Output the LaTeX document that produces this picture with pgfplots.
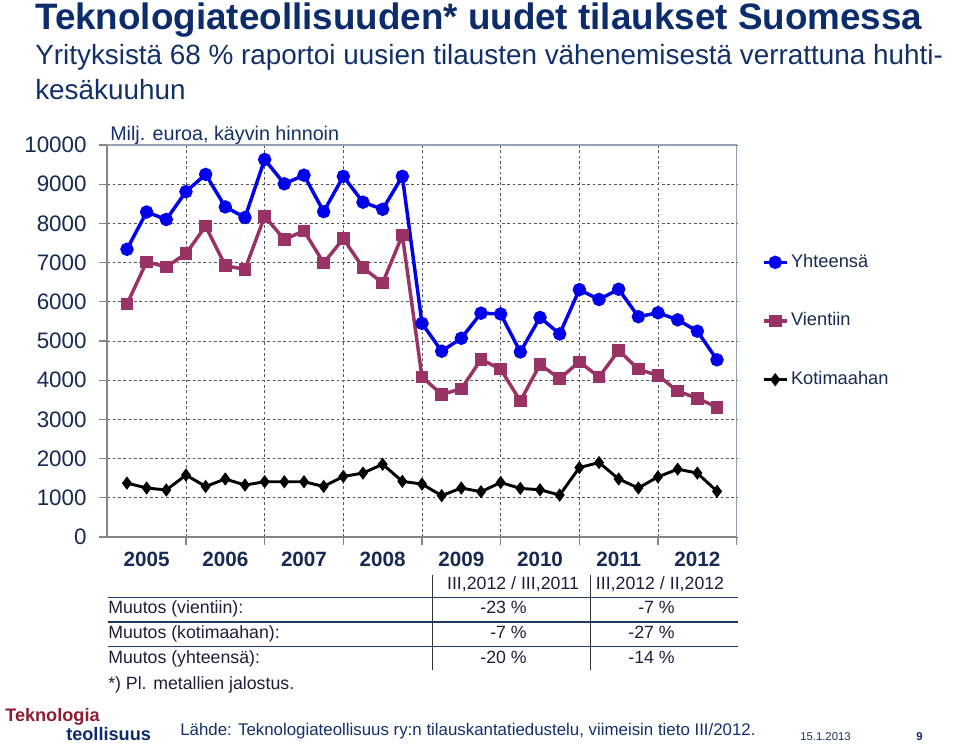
\documentclass[border=0pt]{standalone}
\usepackage{fontspec}
\setmainfont{Liberation Sans}
\usepackage{pgfplots}
\pgfplotsset{compat=1.18}
\usepackage{pgfplotstable}

\definecolor{titleblue}{RGB}{13,44,108}
\definecolor{subblue}{RGB}{18,48,106}
\definecolor{ticknavy}{RGB}{22,42,82}
\definecolor{lineblue}{RGB}{0,0,235}
\definecolor{vientiin}{RGB}{153,51,102}
\definecolor{logored}{RGB}{140,30,50}
\definecolor{gridgray}{RGB}{85,85,85}
\definecolor{axisgray}{RGB}{134,134,134}
\definecolor{framegray}{RGB}{150,160,180}
\definecolor{ruleblue}{RGB}{31,56,100}
\definecolor{tabtext}{RGB}{30,30,60}

% quarterly orders, MEUR, 2005 Q1 ... 2012 Q3 (x = 1..31)
\pgfplotstableread{
x yht vie kot
1  7340 5940 1375
2  8290 7020 1250
3  8100 6890 1200
4  8810 7230 1580
5  9250 7930 1290
6  8420 6920 1480
7  8150 6830 1325
8  9630 8180 1410
9  9010 7590 1410
10 9230 7810 1410
11 8300 6990 1290
12 9200 7610 1545
13 8540 6870 1630
14 8360 6480 1855
15 9200 7700 1420
16 5450 4080 1350
17 4740 3640 1055
18 5070 3780 1250
19 5710 4530 1155
20 5690 4280 1390
21 4720 3470 1240
22 5600 4400 1205
23 5180 4040 1070
24 6310 4470 1770
25 6060 4080 1900
26 6320 4760 1480
27 5620 4280 1250
28 5720 4120 1535
29 5540 3720 1730
30 5250 3540 1630
31 4520 3310 1165
}\orders

\begin{document}
\begin{tikzpicture}
\useasboundingbox (0pt,0pt) rectangle (720pt,558pt);

\begin{axis}[
    at={(80.475pt,155.25pt)}, anchor=south west,
    scale only axis,
    width=472.05pt, height=294pt,
    xmin=0, xmax=32,
    ymin=0, ymax=10000,
    axis x line*=bottom, axis y line*=left,
    x axis line style={axisgray, line width=1.1pt, -},
    y axis line style={axisgray, line width=1.8pt, -},
    xtick={4,8,...,32}, xticklabels={},
    ytick={0,1000,...,10000},
    yticklabels={0,1000,2000,3000,4000,5000,6000,7000,8000,9000,10000},
    scaled y ticks=false,
    extra x ticks={2,6,...,30},
    extra x tick labels={2005,2006,2007,2008,2009,2010,2011,2012},
    extra x tick style={grid=none, major tick length=0pt,
        tick label style={font=\bfseries\fontsize{15.5}{18}\selectfont, text=ticknavy, yshift=-7.5pt}},
    yticklabel style={font=\fontsize{16.8}{19}\selectfont, text=ticknavy, xshift=-6pt},
    tick align=outside,
    major tick length=6pt,
    tick style={axisgray, line width=0.8pt},
    xmajorgrids, ymajorgrids,
    grid style={gridgray, line width=0.6pt, dash pattern=on 2pt off 2pt},
    legend style={at={(1.04,0.551)}, anchor=west, draw=none, fill=none,
        inner sep=0pt, row sep=27pt,
        font=\fontsize{13.7}{16}\selectfont, text=ticknavy,
        nodes={inner sep=2pt, text height=10pt, text depth=3pt}},
    legend cell align=left,
    clip=false,
]
\addplot[lineblue, line width=2.6pt, mark=*, mark size=3.7pt,
    mark options={solid}] table[x=x, y=yht] {\orders};
\addplot[vientiin, line width=2.6pt, mark=square*, mark size=3.4pt,
    mark options={solid}] table[x=x, y=vie] {\orders};
\addplot[black, line width=2.2pt, mark=diamond*, mark size=3.2pt,
    mark options={solid}] table[x=x, y=kot] {\orders};
\legend{Yhteensä, Vientiin, Kotimaahan}

\draw[framegray, line width=0.8pt] (rel axis cs:0,1) -- (rel axis cs:1,1) -- (rel axis cs:1,0);
\end{axis}

\begin{scope}[x=0.75pt, y=0.75pt]
% title and subtitle
\node[anchor=base west, inner sep=0, text=titleblue,
    font=\bfseries\fontsize{27.6}{31}\selectfont] at (35,714.5)
    {Teknologiateollisuuden* uudet tilaukset Suomessa};
\node[anchor=base west, inner sep=0, text=subblue,
    font=\fontsize{20.9}{24}\selectfont] at (35,679)
    {Yrityksistä 68 \% raportoi uusien tilausten vähenemisestä verrattuna huhti-};
\node[anchor=base west, inner sep=0, text=subblue,
    font=\fontsize{20.9}{24}\selectfont] at (35,644) {kesäkuuhun};
\node[anchor=base west, inner sep=0, text=subblue,
    font=\fontsize{14.8}{17}\selectfont] at (110,603.3) {Milj. euroa, käyvin hinnoin};

% change table
\draw[ruleblue, line width=1.1pt] (108,146.5) -- (738,146.5);
\draw[ruleblue, line width=1.1pt] (108,122) -- (738,122);
\draw[ruleblue, line width=1.1pt] (108,97.5) -- (738,97.5);
\draw[black!80, line width=0.7pt] (432,169) -- (432,74);
\draw[black!80, line width=0.7pt] (590,169) -- (590,74);
\begin{scope}[every node/.style={inner sep=0, text=tabtext, font=\fontsize{13.3}{15}\selectfont}]
\node[anchor=mid] at (513,158) {III,2012 / III,2011};
\node[anchor=mid] at (660,158) {III,2012 / II,2012};
\node[anchor=mid west] at (108,134) {Muutos (vientiin):};
\node[anchor=mid west] at (108,109) {Muutos (kotimaahan):};
\node[anchor=mid west] at (108,84) {Muutos (yhteensä):};
\node[anchor=mid east] at (527,134) {-23 \%};
\node[anchor=mid east] at (527,109) {-7 \%};
\node[anchor=mid east] at (527,84) {-20 \%};
\node[anchor=mid east] at (675,134) {-7 \%};
\node[anchor=mid east] at (675,109) {-27 \%};
\node[anchor=mid east] at (675,84) {-14 \%};
\node[anchor=mid west] at (108,58) {*) Pl. metallien jalostus.};
\end{scope}

% footer
\node[anchor=base west, inner sep=0, text=logored,
    font=\bfseries\fontsize{13.6}{16}\selectfont] at (5,22.5) {Teknologia};
\node[anchor=base west, inner sep=0, text=titleblue,
    font=\bfseries\fontsize{13.6}{16}\selectfont] at (66,4) {teollisuus};
\node[anchor=base west, inner sep=0, text=subblue,
    font=\fontsize{12.65}{15}\selectfont] at (180,9)
    {Lähde: Teknologiateollisuus ry:n tilauskantatiedustelu, viimeisin tieto III/2012.};
\node[anchor=base west, inner sep=0, text=subblue,
    font=\fontsize{8.5}{10}\selectfont] at (800,4) {15.1.2013};
\node[anchor=base west, inner sep=0, text=titleblue,
    font=\bfseries\fontsize{8.5}{10}\selectfont] at (916,4) {9};
\end{scope}
\end{tikzpicture}
\end{document}
